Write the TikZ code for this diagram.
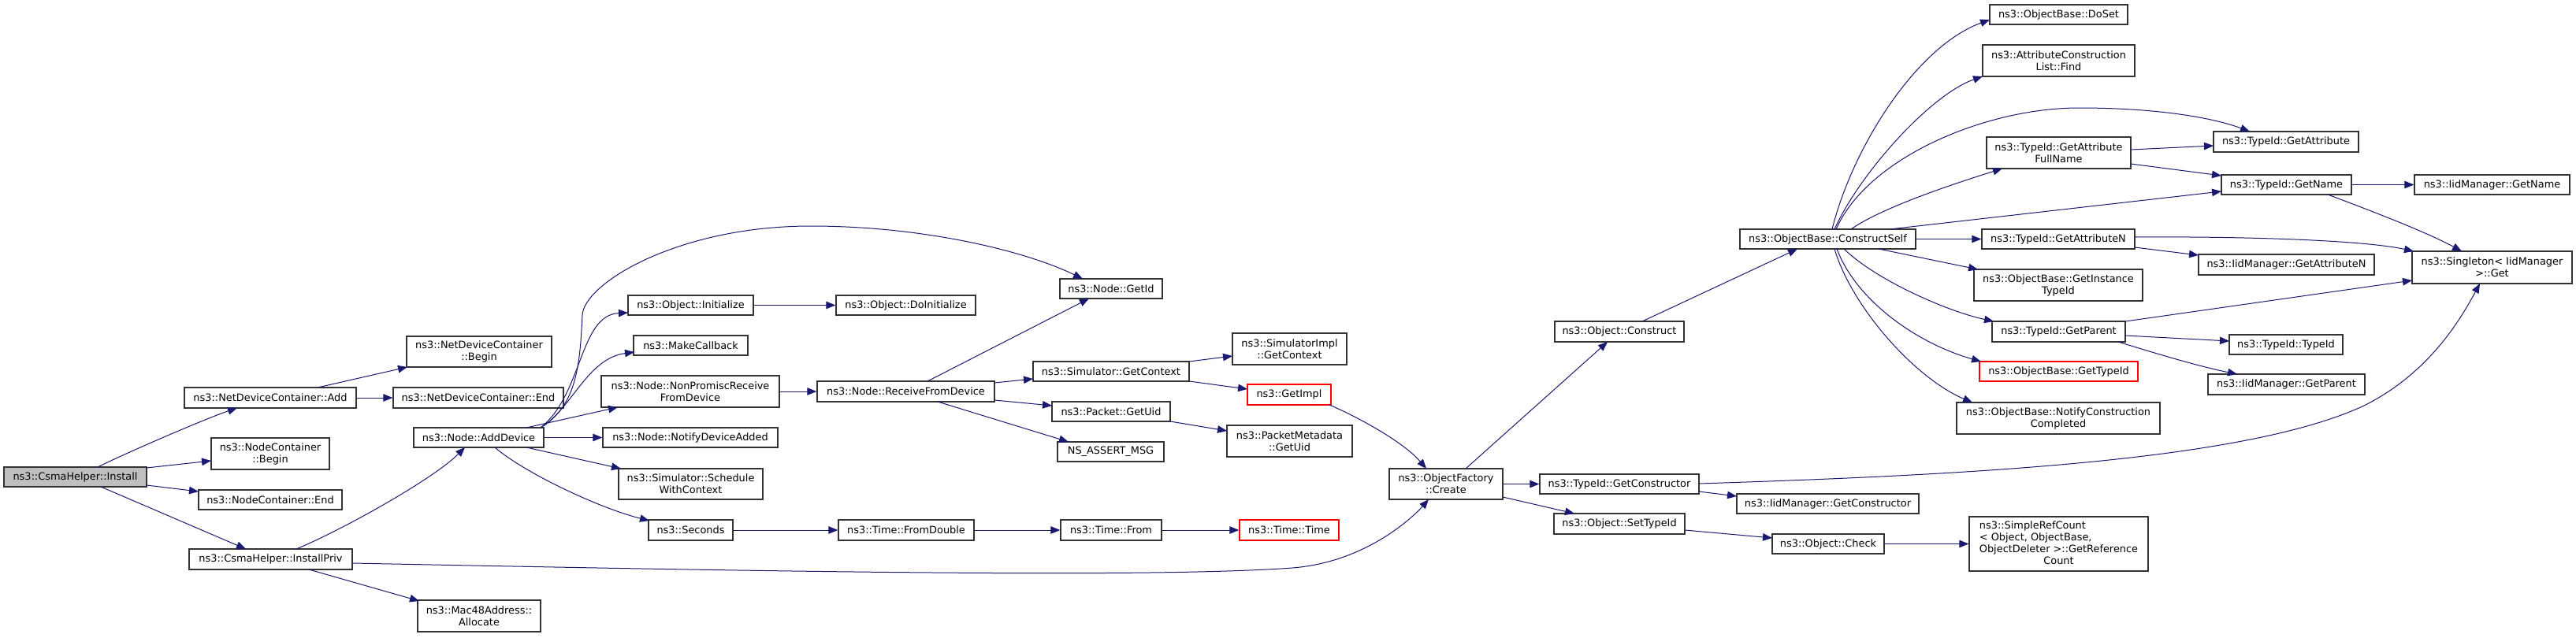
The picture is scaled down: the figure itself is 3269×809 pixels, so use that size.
\documentclass[tikz,border=0pt]{standalone}
\usepackage{fontspec}
\setmainfont{DejaVu Sans}
\usetikzlibrary{arrows.meta,calc}
\definecolor{edgec}{HTML}{191970}
\definecolor{boxc}{HTML}{333333}
\definecolor{rootfill}{HTML}{BFBFBF}
\begin{document}
\begin{tikzpicture}[x=1pt,y=-1pt,
  box/.style={draw=boxc, line width=1.3pt, rectangle, inner sep=0pt, fill=white, align=center,
    font={\fontsize{12.9}{15}\selectfont}},
  redbox/.style={box, draw=red},
  e/.style={draw=edgec, line width=1pt, -{Triangle[length=12pt,width=9.5pt]}}]
\useasboundingbox[fill=white] (0,0) rectangle (3269,809);
% column 0
\node[box, fill=rootfill, minimum width=181, minimum height=25] (ins) at (95.5,605.5) {ns3::CsmaHelper::Install};
% column 1
\node[box, minimum width=218, minimum height=26] (add) at (343,505) {ns3::NetDeviceContainer::Add};
\node[box, minimum width=150, minimum height=40] (ncb) at (343,576) {ns3::NodeContainer\\::Begin};
\node[box, minimum width=182, minimum height=25] (nce) at (343,634.5) {ns3::NodeContainer::End};
\node[box, minimum width=207, minimum height=26] (ipr) at (343.5,710) {ns3::CsmaHelper::InstallPriv};
% column 2
\node[box, minimum width=184, minimum height=39] (ndcb) at (608,446.5) {ns3::NetDeviceContainer\\::Begin};
\node[box, minimum width=216, minimum height=26] (ndce) at (607,505) {ns3::NetDeviceContainer::End};
\node[box, minimum width=165, minimum height=25] (ad) at (607.5,555.5) {ns3::Node::AddDevice};
\node[box, minimum width=156, minimum height=40] (mac) at (608,782) {ns3::Mac48Address::\\Allocate};
% column 3
\node[box, minimum width=159, minimum height=25] (ini) at (876.5,387.5) {ns3::Object::Initialize};
\node[box, minimum width=145, minimum height=25] (mcb) at (876.5,438.5) {ns3::MakeCallback};
\node[box, minimum width=226, minimum height=40] (npr) at (876,497) {ns3::Node::NonPromiscReceive\\FromDevice};
\node[box, minimum width=222, minimum height=25] (nda) at (876,555.5) {ns3::Node::NotifyDeviceAdded};
\node[box, minimum width=183, minimum height=39] (swc) at (876.5,614.5) {ns3::Simulator::Schedule\\WithContext};
\node[box, minimum width=107, minimum height=26] (sec) at (876.5,673) {ns3::Seconds};
% column 4
\node[box, minimum width=177, minimum height=25] (doi) at (1149.5,387.5) {ns3::Object::DoInitialize};
\node[box, minimum width=225, minimum height=26] (rfd) at (1149.5,497) {ns3::Node::ReceiveFromDevice};
\node[box, minimum width=172, minimum height=26] (fd) at (1150,673) {ns3::Time::FromDouble};
% column 5
\node[box, minimum width=130, minimum height=25] (gid) at (1410,366.5) {ns3::Node::GetId};
\node[box, minimum width=198, minimum height=25] (sgc) at (1410,471.5) {ns3::Simulator::GetContext};
\node[box, minimum width=150, minimum height=25] (pgu) at (1410,522.5) {ns3::Packet::GetUid};
\node[box, minimum width=135, minimum height=25] (nsa) at (1409.5,573.5) {NS\_ASSERT\_MSG};
\node[box, minimum width=128, minimum height=26] (tf) at (1410,673) {ns3::Time::From};
% column 6
\node[box, minimum width=145, minimum height=40] (sic) at (1636.5,443) {ns3::SimulatorImpl\\::GetContext};
\node[redbox, minimum width=106, minimum height=26] (gim) at (1636,501) {ns3::GetImpl};
\node[box, minimum width=159, minimum height=40] (pmg) at (1636.5,560) {ns3::PacketMetadata\\::GetUid};
\node[redbox, minimum width=126, minimum height=26] (tt) at (1636,673) {ns3::Time::Time};
% column 7
\node[box, minimum width=144, minimum height=39] (cre) at (1835,614.5) {ns3::ObjectFactory\\::Create};
% column 8
\node[box, minimum width=164, minimum height=26] (con) at (2055,421) {ns3::Object::Construct};
\node[box, minimum width=202, minimum height=25] (gcn) at (2055,614.5) {ns3::TypeId::GetConstructor};
\node[box, minimum width=166, minimum height=26] (sti) at (2055,665) {ns3::Object::SetTypeId};
% column 9
\node[box, minimum width=223, minimum height=25] (cs) at (2319.5,303.5) {ns3::ObjectBase::ConstructSelf};
\node[box, minimum width=231, minimum height=25] (igc) at (2319.5,639.5) {ns3::IidManager::GetConstructor};
\node[box, minimum width=142, minimum height=25] (chk) at (2320,690.5) {ns3::Object::Check};
% column 10
\node[box, minimum width=175, minimum height=25] (dos) at (2612.5,18.5) {ns3::ObjectBase::DoSet};
\node[box, minimum width=193, minimum height=40] (fnd) at (2612.5,77) {ns3::AttributeConstruction\\List::Find};
\node[box, minimum width=183, minimum height=40] (afn) at (2612.5,194) {ns3::TypeId::GetAttribute\\FullName};
\node[box, minimum width=194, minimum height=25] (gan) at (2612,303.5) {ns3::TypeId::GetAttributeN};
\node[box, minimum width=214, minimum height=40] (git) at (2612,362) {ns3::ObjectBase::GetInstance\\TypeId};
\node[box, minimum width=169, minimum height=26] (gpa) at (2612.5,421) {ns3::TypeId::GetParent};
\node[redbox, minimum width=201, minimum height=25] (ogt) at (2612.5,471.5) {ns3::ObjectBase::GetTypeId};
\node[box, minimum width=258, minimum height=40] (ncc) at (2612,531) {ns3::ObjectBase::NotifyConstruction\\Completed};
\node[box, minimum width=227, minimum height=69] (src) at (2612.5,690.5) {\begin{tabular}{@{}l@{}}ns3::SimpleRefCount\\< Object, ObjectBase,\\ObjectDeleter >::GetReference\\\multicolumn{1}{@{}c@{}}{Count}\end{tabular}};
% column 11
\node[box, minimum width=184, minimum height=26] (gat) at (2901,180) {ns3::TypeId::GetAttribute};
\node[box, minimum width=165, minimum height=25] (gna) at (2901.5,234.5) {ns3::TypeId::GetName};
\node[box, minimum width=223, minimum height=26] (iga) at (2901.5,336) {ns3::IidManager::GetAttributeN};
\node[box, minimum width=144, minimum height=25] (tti) at (2901,437.5) {ns3::TypeId::TypeId};
\node[box, minimum width=199, minimum height=26] (igp) at (2901.5,488) {ns3::IidManager::GetParent};
% column 12
\node[box, minimum width=197, minimum height=25] (ign) at (3162.5,234.5) {ns3::IidManager::GetName};
\node[box, minimum width=203, minimum height=41] (sgl) at (3162.5,339.5) {ns3::Singleton< IidManager\\>::Get};

% edges
\draw[e] ($(ins)+(28.5,-12.5)$) .. controls (160,575) and (262,531) .. ($(add)+(-42,13)$);
\draw[e] ($(ins)+(90.5,-11.5)$) -- ($(ncb)+(-75,9)$);
\draw[e] ($(ins)+(90.5,10.5)$) -- ($(nce)+(-91,-10.5)$);
\draw[e] ($(ins)+(32.5,12.5)$) -- ($(ipr)+(-31.5,-13)$);
\draw[e] ($(add)+(60,-13)$) -- ($(ndcb)+(-91,19.5)$);
\draw[e] (add.east) -- (ndce.west);
\draw[e] ($(ipr)+(32.5,-13)$) .. controls (436,672) and (550,608) .. ($(ad)+(-17.5,12.5)$);
\draw[e] ($(ipr)+(48.5,13)$) -- ($(mac)+(-76,-19)$);
\draw[e] ($(ipr)+(103.5,5)$) .. controls (900,724) and (1450,735) .. (1640,721) .. controls (1730,714) and (1790,660) .. ($(cre)+(-22,19.5)$);
\draw[e] ($(ad)+(78.5,-12.5)$) .. controls (733,515) and (736,460) .. (739,400) .. controls (741,360) and (860,287) .. (1029,287) .. controls (1170,287) and (1300,318) .. ($(gid)+(-36,-12.5)$);
\draw[e] ($(ad)+(78.5,-12.5)$) .. controls (740,500) and (735,400) .. ($(ini)+(-79.5,9.5)$);
\draw[e] ($(ad)+(78.5,-12.5)$) .. controls (725,520) and (745,455) .. ($(mcb)+(-71.5,8.5)$);
\draw[e] ($(ad)+(60.5,-12.5)$) -- ($(npr)+(-92,20)$);
\draw[e] (ad.east) -- (nda.west);
\draw[e] ($(ad)+(60.5,12.5)$) -- ($(swc)+(-88.5,-19.5)$);
\draw[e] ($(ad)+(20.5,12.5)$) .. controls (665,600) and (760,645) .. ($(sec)+(-52.5,-12)$);
\draw[e] (ini.east) -- (doi.west);
\draw[e] (npr.east) -- (rfd.west);
\draw[e] ($(rfd)+(27.5,-13)$) -- ($(gid)+(-28,12.5)$);
\draw[e] ($(rfd)+(112.5,-11)$) -- ($(sgc)+(-99,9.5)$);
\draw[e] ($(rfd)+(112.5,11)$) -- ($(pgu)+(-75,-7.5)$);
\draw[e] ($(rfd)+(40.5,13)$) -- ($(nsa)+(-53.5,-12.5)$);
\draw[e] ($(sgc)+(99,-12.5)$) -- ($(sic)+(-72.5,9)$);
\draw[e] ($(sgc)+(99,12.5)$) -- ($(gim)+(-53,-7)$);
\draw[e] ($(pgu)+(75,12.5)$) -- ($(pmg)+(-79.5,-13)$);
\draw[e] (sec.east) -- (fd.west);
\draw[e] (fd.east) -- (tf.west);
\draw[e] (tf.east) -- (tt.west);
\draw[e] ($(gim)+(51,13)$) .. controls (1720,528) and (1780,560) .. ($(cre)+(-25,-19.5)$);
\draw[e] ($(cre)+(25,-19.5)$) -- ($(con)+(-15,13)$);
\draw[e] (cre.east) -- (gcn.west);
\draw[e] ($(cre)+(72,16.5)$) -- ($(sti)+(-57,-13)$);
\draw[e] ($(gcn)+(101,9.5)$) -- ($(igc)+(-115.5,-9.5)$);
\draw[e] ($(gcn)+(101,-0.5)$) .. controls (2500,603) and (2850,585) .. (3000,515) .. controls (3080,475) and (3120,410) .. ($(sgl)+(-15.5,20.5)$);
\draw[e] ($(sti)+(83,8)$) -- ($(chk)+(-71,-7.5)$);
\draw[e] (chk.east) -- (src.west);
\draw[e] ($(con)+(29,-13)$) -- ($(cs)+(-38.5,12.5)$);
\draw[e] ($(cs)+(5.5,-12.5)$) .. controls (2350,190) and (2430,60) .. ($(dos)+(-87.5,6.5)$);
\draw[e] ($(cs)+(8.5,-12.5)$) .. controls (2360,220) and (2450,120) .. ($(fnd)+(-96.5,20)$);
\draw[e] ($(cs)+(10.5,-12.5)$) .. controls (2370,200) and (2520,137) .. (2638,137) .. controls (2740,137) and (2810,150) .. ($(gat)+(-46,-13)$);
\draw[e] ($(cs)+(29.5,-12.5)$) .. controls (2390,262) and (2490,230) .. ($(afn)+(-71.5,20)$);
\draw[e] ($(cs)+(78.5,-12.5)$) -- ($(gna)+(-82.5,8.5)$);
\draw[e] (cs.east) -- (gan.west);
\draw[e] ($(cs)+(64.5,12.5)$) -- ($(git)+(-102,-20)$);
\draw[e] ($(cs)+(20.5,12.5)$) .. controls (2380,355) and (2470,395) .. ($(gpa)+(-82.5,-13)$);
\draw[e] ($(cs)+(11.5,12.5)$) .. controls (2355,380) and (2430,435) .. ($(ogt)+(-98.5,-12.5)$);
\draw[e] ($(cs)+(8.5,12.5)$) .. controls (2350,390) and (2430,480) .. ($(ncc)+(-109,-20)$);
\draw[e] ($(afn)+(91.5,-4)$) -- ($(gat)+(-92,5)$);
\draw[e] ($(afn)+(91.5,14)$) -- ($(gna)+(-82.5,-11.5)$);
\draw[e] (gna.east) -- (ign.west);
\draw[e] ($(gna)+(52.5,12.5)$) .. controls (3010,268) and (3080,295) .. ($(sgl)+(-38.5,-20.5)$);
\draw[e] ($(gan)+(97,-2.5)$) .. controls (2850,300) and (3000,305) .. ($(sgl)+(-99.5,-20.5)$);
\draw[e] ($(gan)+(97,10.5)$) -- ($(iga)+(-111.5,-12)$);
\draw[e] ($(gpa)+(84.5,-13)$) -- ($(sgl)+(-101.5,16.5)$);
\draw[e] ($(gpa)+(84.5,5)$) -- ($(tti)+(-72,-4.5)$);
\draw[e] ($(gpa)+(75.5,13)$) .. controls (2740,450) and (2790,465) .. ($(igp)+(-62.5,-13)$);
\end{tikzpicture}
\end{document}
